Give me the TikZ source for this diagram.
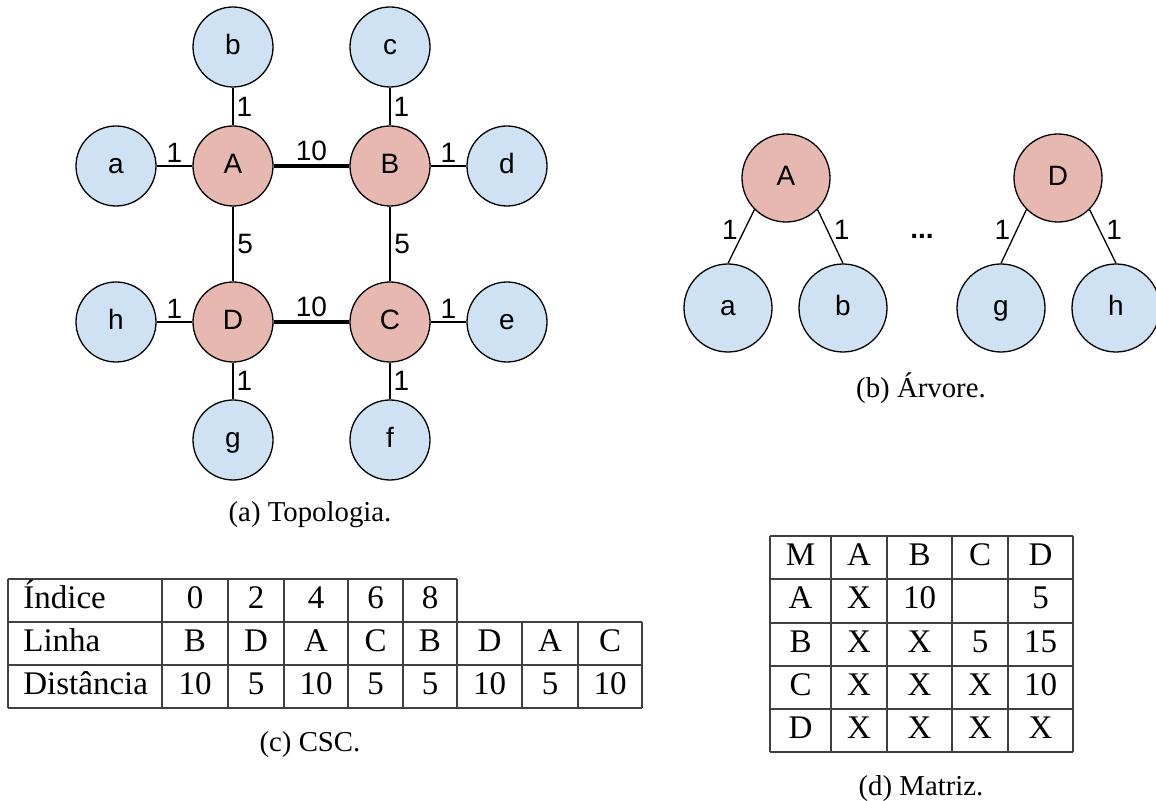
\documentclass[tikz,border=0pt]{standalone}
\usepackage{fontspec}
\setmainfont{Liberation Serif}
\newfontfamily\arialfont{Liberation Sans}
\usepackage{tikz}

\definecolor{hubred}{HTML}{E6B8AF}
\definecolor{leafblue}{HTML}{CFE2F3}

\begin{document}
\begin{tikzpicture}[x=0.5pt, y=-0.5pt,
    hub/.style={circle, draw, line width=0.65pt, fill=hubred, minimum size=40pt,
        inner sep=0pt, text height=0.72em, text depth=0pt,
        font=\arialfont\fontsize{14}{16}\selectfont},
    leaf/.style={hub, fill=leafblue},
    big/.style={minimum size=44pt},
    wt/.style={font=\arialfont\fontsize{14}{16}\selectfont, inner sep=1.5pt},
    link/.style={line width=0.65pt},
    ring/.style={line width=1.3pt},
    trunk/.style={line width=1.95pt},
    tabline/.style={line width=0.6pt, black!75},
    cell/.style={anchor=base, inner sep=0pt, font=\fontsize{16.5}{19}\selectfont},
    subcap/.style={anchor=base, inner sep=0pt, font=\fontsize{14.4}{17}\selectfont}]

    \useasboundingbox (0,0) rectangle (1156,801);

    % (a) topology: routers A-D and their hosts
    \node[leaf] (b) at (233,47) {b};
    \node[leaf] (c) at (390,47) {c};
    \node[leaf] (a) at (116,166) {a};
    \node[hub]  (A) at (233,166) {A};
    \node[hub]  (B) at (390,166) {B};
    \node[leaf] (d) at (507,166) {d};
    \node[leaf] (h) at (116,322) {h};
    \node[hub]  (D) at (233,322) {D};
    \node[hub]  (C) at (390,322) {C};
    \node[leaf] (e) at (507,322) {e};
    \node[leaf] (g) at (233,440) {g};
    \node[leaf] (f) at (390,440) {f};

    % host links
    \draw[link] (a) -- node[wt, above] {1} (A);
    \draw[link] (b) -- node[wt, right] {1} (A);
    \draw[link] (c) -- node[wt, right] {1} (B);
    \draw[link] (B) -- node[wt, above] {1} (d);
    \draw[link] (h) -- node[wt, above] {1} (D);
    \draw[link] (D) -- node[wt, right] {1} (g);
    \draw[link] (C) -- node[wt, right] {1} (f);
    \draw[link] (C) -- node[wt, above] {1} (e);

    % router links
    \draw[trunk] (A) -- node[wt, above] {10} (B);
    \draw[trunk] (D) -- node[wt, above] {10} (C);
    \draw[ring] (A) -- node[wt, right] {5} (D);
    \draw[ring] (B) -- node[wt, right] {5} (C);

    \node[subcap] (capA) at (310,522) {(a) Topologia.};

    % (b) trees
    \node[hub, big]  (tA) at (786,178) {A};
    \node[leaf, big] (ta) at (728,308) {a};
    \node[leaf, big] (tb) at (843,308) {b};
    \node[hub, big]  (tD) at (1058,178) {D};
    \node[leaf, big] (tg) at (1001,308) {g};
    \node[leaf, big] (th) at (1116,308) {h};

    \draw[link] (tA.225) -- node[wt, left, yshift=3.5pt] {1} (ta.north);
    \draw[link] (tA.315) -- node[wt, right, yshift=3.5pt] {1} (tb.north);
    \draw[link] (tD.225) -- node[wt, left, yshift=3.5pt] {1} (tg.north);
    \draw[link] (tD.315) -- node[wt, right, yshift=3.5pt] {1} (th.north);

    \node[wt, font=\arialfont\bfseries\fontsize{14}{16}\selectfont] (dots) at (922,236) {...};

    \node[subcap] (capB) at (921,398) {(b) Árvore.};

    % (c) CSC table
    \draw[tabline] (8,579) -- (457,579);
    \foreach \y in {622,665,708}
        \draw[tabline] (8,\y) -- (642,\y);
    \foreach \x in {8,162,228,284,348,403,457}
        \draw[tabline] (\x,579) -- (\x,708);
    \foreach \x in {522,578,642}
        \draw[tabline] (\x,622) -- (\x,708);

    \node[cell, anchor=base west] (hIdx) at (23,608) {Índice};
    \node[cell, anchor=base west] (hLin) at (23,651) {Linha};
    \node[cell, anchor=base west] (hDst) at (23,694) {Distância};
    \foreach \x/\t [count=\k] in {195/0, 256/2, 316/4, 375.5/6, 430/8}
        \node[cell] (idx\k) at (\x,608) {\t};
    \foreach \x/\t [count=\k] in {195/B, 256/D, 316/A, 375.5/C, 430/B, 489.5/D, 550/A, 610/C}
        \node[cell] (lin\k) at (\x,651) {\t};
    \foreach \x/\t [count=\k] in {195/10, 256/5, 316/10, 375.5/5, 430/5, 489.5/10, 550/5, 610/10}
        \node[cell] (dst\k) at (\x,694) {\t};

    \node[subcap] (capC) at (310,751) {(c) CSC.};

    % (d) distance matrix
    \foreach \y in {536,579,623,666,709,752}
        \draw[tabline] (770,\y) -- (1073,\y);
    \foreach \x in {770,831,887,952,1008,1073}
        \draw[tabline] (\x,536) -- (\x,752);

    \foreach \y/\r/\a/\b/\c/\d in {565.5/M/A/B/C/D, 609/A/X/10//5, 652.5/B/X/X/5/15,
                                   695.5/C/X/X/X/10, 738.5/D/X/X/X/X} {
        \node[cell] (m\r0) at (800.5,\y) {\r};
        \node[cell] (m\r1) at (859,\y) {\a};
        \node[cell] (m\r2) at (919.5,\y) {\b};
        \node[cell] (m\r3) at (980,\y) {\c};
        \node[cell] (m\r4) at (1040.5,\y) {\d};
    }

    \node[subcap] (capD) at (921,795) {(d) Matriz.};
\end{tikzpicture}
\end{document}
